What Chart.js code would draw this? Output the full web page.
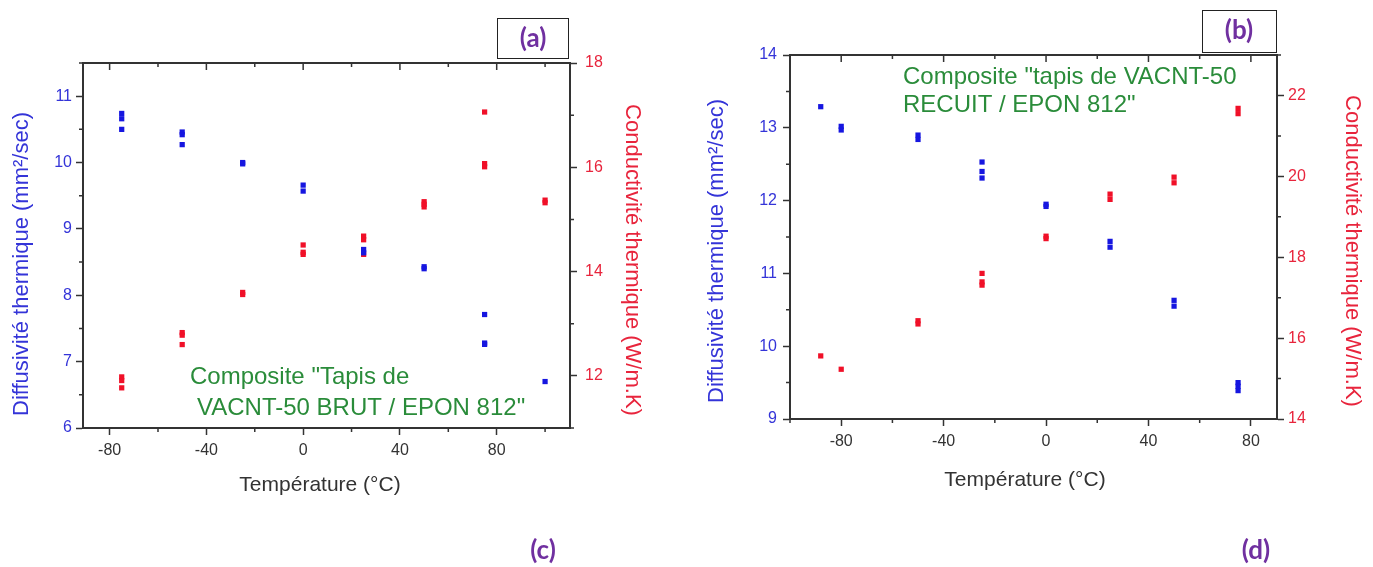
<!DOCTYPE html>
<html lang="fr">
<head>
<meta charset="utf-8">
<title>Diffusivité et conductivité thermique</title>
<script src="https://cdn.jsdelivr.net/npm/chart.js@4.4.1/dist/chart.umd.min.js"></script>
<style>
  html, body { margin: 0; padding: 0; background: #fff; }
  #wrap { position: relative; width: 1373px; height: 567px; overflow: hidden; }
  canvas { position: absolute; top: 0; }
  #chartA { left: 0; }
  #chartB { left: 690px; }
</style>
</head>
<body>
<div id="wrap">
  <canvas id="chartA" width="690" height="567"></canvas>
  <canvas id="chartB" width="683" height="567"></canvas>
</div>
<script>
// (a) composite VACNT-50 brut / EPON 812
const tempDiffA = [-75, -75, -75, -50, -50, -50, -25, -25, 0, 0, 25, 25, 50, 50, 75, 75, 75, 100];
const diffA     = [10.74, 10.66, 10.50, 10.46, 10.42, 10.27, 10.00, 9.98, 9.66, 9.57, 8.69, 8.64, 8.43, 8.40, 7.71, 7.28, 7.26, 6.70];
const tempCondA = [-75, -75, -75, -50, -50, -50, -25, -25, 0, 0, 0, 25, 25, 25, 50, 50, 50, 75, 75, 75, 100, 100];
const condA     = [11.98, 11.91, 11.77, 12.83, 12.78, 12.60, 13.60, 13.56, 14.51, 14.37, 14.33, 14.68, 14.61, 14.33, 15.34, 15.29, 15.24, 17.06, 16.07, 16.01, 15.37, 15.32];

// (b) composite VACNT-50 recuit / EPON 812
const tempDiffB = [-88, -80, -80, -50, -50, -25, -25, -25, 0, 0, 25, 25, 50, 50, 75, 75, 75];
const diffB     = [13.29, 13.02, 12.97, 12.90, 12.84, 12.53, 12.40, 12.31, 11.95, 11.92, 11.44, 11.36, 10.63, 10.55, 9.50, 9.45, 9.39];
const tempCondB = [-88, -80, -50, -50, -25, -25, -25, 0, 0, 25, 25, 50, 50, 75, 75];
const condB     = [15.56, 15.23, 16.43, 16.35, 17.60, 17.39, 17.31, 18.52, 18.46, 19.56, 19.43, 19.98, 19.84, 21.68, 21.55];

// graduations (toutes) et valeurs affichées
const xTicksA = [-80, -60, -40, -20, 0, 20, 40, 60, 80, 100];
const xLabelsA = [-80, -40, 0, 40, 80];
const diffTicksA = [6, 6.5, 7, 7.5, 8, 8.5, 9, 9.5, 10, 10.5, 11, 11.5];
const diffLabelsA = [6, 7, 8, 9, 10, 11];
const condTicksA = [11, 12, 13, 14, 15, 16, 17, 18];
const condLabelsA = [12, 14, 16, 18];

const xTicksB = [-100, -80, -60, -40, -20, 0, 20, 40, 60, 80];
const xLabelsB = [-80, -40, 0, 40, 80];
const diffTicksB = [9, 9.5, 10, 10.5, 11, 11.5, 12, 12.5, 13, 13.5, 14];
const diffLabelsB = [9, 10, 11, 12, 13, 14];
const condTicksB = [14, 15, 16, 17, 18, 19, 20, 21, 22, 23];
const condLabelsB = [14, 16, 18, 20, 22];

const AXIS = '#333333';
const BLUE = '#1616e0';
const RED = '#f01028';
const BLUE_TXT = '#3434d8';
const RED_TXT = '#e8243c';
const GREEN = '#2a8c3a';
const PURPLE = '#7030a0';
const FAMILY = "'Liberation Sans', Arial, sans-serif";
const MINOR_LEN = 4;

function points(xs, ys) {
    return xs.map((x, i) => ({ x: x, y: ys[i] }));
}

// cadre du haut, petites graduations, textes libres
const decor = {
    id: 'decor',
    afterDraw(chart, args, opts) {
        const ctx = chart.ctx;
        const area = chart.chartArea;
        const xs = chart.scales.x;
        ctx.save();
        ctx.strokeStyle = AXIS;
        ctx.lineWidth = 2;
        ctx.beginPath();
        ctx.moveTo(area.left - 1, area.top);
        ctx.lineTo(area.right + 1, area.top);
        ctx.stroke();

        ctx.lineWidth = 1.5;
        ctx.beginPath();
        // graduations du haut vers l'intérieur
        xs.ticks.forEach(t => {
            const px = xs.getPixelForValue(t.value);
            const len = t.label === '' ? MINOR_LEN : 7;
            ctx.moveTo(px, area.top);
            ctx.lineTo(px, area.top + len);
        });
        // graduations mineures (sans valeur), plus courtes
        Object.values(chart.scales).forEach(s => {
            s.ticks.forEach(t => {
                if (t.label !== '') return;
                const p = s.getPixelForValue(t.value);
                if (s.position === 'bottom') {
                    ctx.moveTo(p, s.top);
                    ctx.lineTo(p, s.top + MINOR_LEN);
                } else if (s.position === 'left') {
                    ctx.moveTo(s.right, p);
                    ctx.lineTo(s.right - MINOR_LEN, p);
                } else {
                    ctx.moveTo(s.left, p);
                    ctx.lineTo(s.left + MINOR_LEN, p);
                }
            });
        });
        ctx.stroke();

        (opts.boxes || []).forEach(b => {
            ctx.lineWidth = 1;
            ctx.strokeStyle = '#222';
            ctx.strokeRect(b.x + 0.5, b.y + 0.5, b.w, b.h);
        });

        (opts.texts || []).forEach(t => {
            ctx.save();
            ctx.font = t.font;
            ctx.fillStyle = t.color;
            ctx.textAlign = t.align || 'center';
            ctx.textBaseline = 'middle';
            ctx.translate(t.x, t.y);
            if (t.rot) ctx.rotate(t.rot);
            ctx.fillText(t.text, 0, 0);
            ctx.restore();
        });
        ctx.restore();
    }
};

function gridOpts(labels) {
    return {
        drawOnChartArea: false,
        tickLength: 7,
        tickWidth: 1.5,
        // les graduations mineures sont tracées par le plugin
        tickColor: c => (c.tick && labels.includes(c.tick.value)) ? AXIS : 'rgba(0,0,0,0)'
    };
}

function axisY(pos, min, max, tickVals, labels, color, pad, width) {
    return {
        type: 'linear',
        position: pos,
        min: min,
        max: max,
        afterBuildTicks: s => { s.ticks = tickVals.map(v => ({ value: v })); },
        afterFit: s => { s.width = width; },
        ticks: {
            autoSkip: false,
            color: color,
            padding: pad,
            font: { family: FAMILY, size: 16 },
            callback: v => labels.includes(v) ? String(v) : ''
        },
        grid: gridOpts(labels),
        border: { color: AXIS, width: 2 }
    };
}

function axisX(min, max, tickVals, labels, height) {
    return {
        type: 'linear',
        position: 'bottom',
        min: min,
        max: max,
        afterBuildTicks: s => { s.ticks = tickVals.map(v => ({ value: v })); },
        afterFit: s => { s.height = height; },
        ticks: {
            autoSkip: false,
            maxRotation: 0,
            color: '#333',
            padding: 6,
            font: { family: FAMILY, size: 16 },
            callback: v => labels.includes(v) ? String(v) : ''
        },
        grid: gridOpts(labels),
        border: { color: AXIS, width: 2 }
    };
}

function makeChart(id, cfg) {
    return new Chart(document.getElementById(id), {
        type: 'scatter',
        data: {
            datasets: [
                {
                    label: 'Diffusivité thermique',
                    data: cfg.diff,
                    yAxisID: 'y',
                    backgroundColor: BLUE,
                    borderWidth: 0,
                    pointStyle: 'rect',
                    pointRadius: 3.7
                },
                {
                    label: 'Conductivité thermique',
                    data: cfg.cond,
                    yAxisID: 'y1',
                    backgroundColor: RED,
                    borderWidth: 0,
                    pointStyle: 'rect',
                    pointRadius: 3.7
                }
            ]
        },
        options: {
            responsive: false,
            animation: false,
            layout: { padding: { top: cfg.top, left: 0, right: 0, bottom: 0 } },
            scales: {
                x: cfg.x,
                y: cfg.y,
                y1: cfg.y1
            },
            plugins: {
                legend: { display: false },
                tooltip: { enabled: false },
                decor: { texts: cfg.texts, boxes: cfg.boxes }
            }
        },
        plugins: [decor]
    });
}

const titleFont = '22px ' + FAMILY;
const noteFont = '24px ' + FAMILY;
const tagFont = 'bold 26px Lato, "Open Sans", sans-serif';

makeChart('chartA', {
    diff: points(tempDiffA, diffA),
    cond: points(tempCondA, condA),
    top: 63,
    x: axisX(-91, 110.3, xTicksA, xLabelsA, 139),
    y: axisY('left', 6, 11.5, diffTicksA, diffLabelsA, BLUE_TXT, 4, 83),
    y1: axisY('right', 11, 18, condTicksA, condLabelsA, RED_TXT, 8, 120),
    boxes: [{ x: 497, y: 18, w: 71, h: 40 }],
    texts: [
        { text: '(a)', x: 533, y: 39, font: tagFont, color: PURPLE },
        { text: '(c)', x: 543, y: 551, font: tagFont, color: PURPLE },
        { text: 'Température (°C)', x: 320, y: 485, font: '21px ' + FAMILY, color: '#333' },
        { text: 'Diffusivité thermique (mm²/sec)', x: 22, y: 264, rot: -Math.PI / 2, font: titleFont, color: BLUE_TXT },
        { text: 'Conductivité thermique (W/m.K)', x: 632, y: 260, rot: Math.PI / 2, font: titleFont, color: RED_TXT },
        { text: 'Composite "Tapis de', x: 190, y: 377, align: 'left', font: noteFont, color: GREEN },
        { text: 'VACNT-50 BRUT / EPON 812"', x: 197, y: 408, align: 'left', font: noteFont, color: GREEN }
    ]
});

makeChart('chartB', {
    diff: points(tempDiffB, diffB),
    cond: points(tempCondB, condB),
    top: 55,
    x: axisX(-100, 90.2, xTicksB, xLabelsB, 148),
    y: axisY('left', 9, 14, diffTicksB, diffLabelsB, BLUE_TXT, 6, 100),
    y1: axisY('right', 14, 23, condTicksB, condLabelsB, RED_TXT, 4, 96),
    boxes: [{ x: 512, y: 10, w: 74, h: 42 }],
    texts: [
        { text: '(b)', x: 549, y: 31, font: tagFont, color: PURPLE },
        { text: '(d)', x: 566, y: 551, font: tagFont, color: PURPLE },
        { text: 'Température (°C)', x: 335, y: 480, font: '21px ' + FAMILY, color: '#333' },
        { text: 'Diffusivité thermique (mm²/sec)', x: 27, y: 251, rot: -Math.PI / 2, font: titleFont, color: BLUE_TXT },
        { text: 'Conductivité thermique (W/m.K)', x: 662, y: 251, rot: Math.PI / 2, font: titleFont, color: RED_TXT },
        { text: 'Composite "tapis de VACNT-50', x: 213, y: 77, align: 'left', font: noteFont, color: GREEN },
        { text: 'RECUIT / EPON 812"', x: 213, y: 105, align: 'left', font: noteFont, color: GREEN }
    ]
});
</script>
</body>
</html>
